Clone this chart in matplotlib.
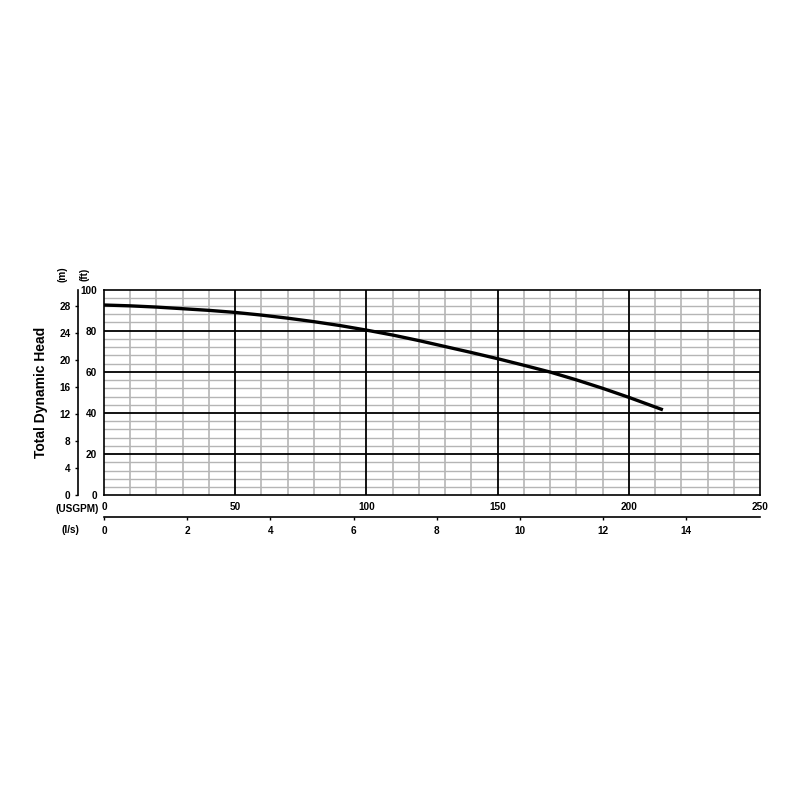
import numpy as np
import matplotlib
matplotlib.use("Agg")
import matplotlib.pyplot as plt

# pump curve (USGPM vs ft)
flow_usgpm = [0, 10, 20, 30, 40, 50, 60, 70, 80, 90, 100, 110, 120, 130, 140,
              150, 160, 170, 180, 190, 200, 212.4]
head_ft = [92.5, 92.1, 91.5, 90.7, 89.9, 88.9, 87.6, 86.1, 84.4, 82.5, 80.3,
           77.9, 75.2, 72.3, 69.4, 66.4, 63.2, 59.9, 56.1, 52.0, 47.6, 41.8]

ft_ticks = [0, 20, 40, 60, 80, 100]
m_ticks = [0, 4, 8, 12, 16, 20, 24, 28]
usgpm_ticks = [0, 50, 100, 150, 200, 250]
ls_ticks = [0, 2, 4, 6, 8, 10, 12, 14]

FT_PER_M = 3.28084
USGPM_PER_LS = 15.8503

plt.rcParams['font.family'] = ['Liberation Sans', 'DejaVu Sans']
plt.rcParams['font.weight'] = 'bold'

fig = plt.figure(figsize=(8, 8), dpi=100)
ax = fig.add_axes([0.13, 0.381, 0.82, 0.257])

ax.set_xlim(0, 250)
ax.set_ylim(0, 100)

# grid: gray minor, black major
for x in np.arange(10, 250, 10):
    if x % 50 == 0:
        ax.axvline(x, color='black', lw=1.3, zorder=2)
    else:
        ax.axvline(x, color='#b5b5b5', lw=1.2, zorder=1)
for y in np.arange(4, 100, 4):
    if y % 20 == 0:
        ax.axhline(y, color='black', lw=1.3, zorder=2)
    else:
        ax.axhline(y, color='#b5b5b5', lw=1.0, zorder=1)

ax.plot(flow_usgpm, head_ft, color='black', lw=2.4, zorder=3,
        solid_joinstyle='round')

for s in ax.spines.values():
    s.set_linewidth(1.2)

ax.set_xticks(usgpm_ticks)
ax.set_yticks(ft_ticks)
ax.tick_params(axis='both', length=0, labelsize=7.2)
ax.tick_params(axis='x', pad=5)
ax.tick_params(axis='y', pad=5)

# meter axis on the left
axm = ax.twinx()
axm.set_ylim(0, 100 / FT_PER_M)
axm.set_yticks(m_ticks)
axm.yaxis.set_ticks_position('left')
axm.spines['left'].set_position(('outward', 18.7))
axm.spines['left'].set_linewidth(1.2)
for k in ['right', 'top', 'bottom']:
    axm.spines[k].set_visible(False)
axm.tick_params(axis='y', length=2.5, width=1, labelsize=7.2, pad=3, direction='out')
axm.set_ylabel('Total Dynamic Head', fontsize=10, fontweight='bold', labelpad=8)
axm.yaxis.set_label_position('left')

# l/s axis below
axl = ax.twiny()
axl.set_xlim(0, 250 / USGPM_PER_LS)
axl.set_xticks(ls_ticks)
axl.xaxis.set_ticks_position('bottom')
axl.spines['bottom'].set_position(('outward', 15.8))
axl.spines['bottom'].set_linewidth(1.2)
for k in ['left', 'right', 'top']:
    axl.spines[k].set_visible(False)
axl.tick_params(axis='x', length=2.5, width=1, labelsize=7.2, pad=4, direction='out')

fig.text(77 / 800, 1 - 509 / 800, '(USGPM)', fontsize=7.2, ha='center', va='center')
fig.text(70 / 800, 1 - 530 / 800, '(l/s)', fontsize=7.2, ha='center', va='center')
fig.text(63 / 800, 1 - 274 / 800, '(m)', fontsize=7.2, rotation=90, ha='center', va='center')
fig.text(85 / 800, 1 - 274 / 800, '(ft)', fontsize=7.2, rotation=90, ha='center', va='center')

fig.savefig('out.png', dpi=100, facecolor='white')
